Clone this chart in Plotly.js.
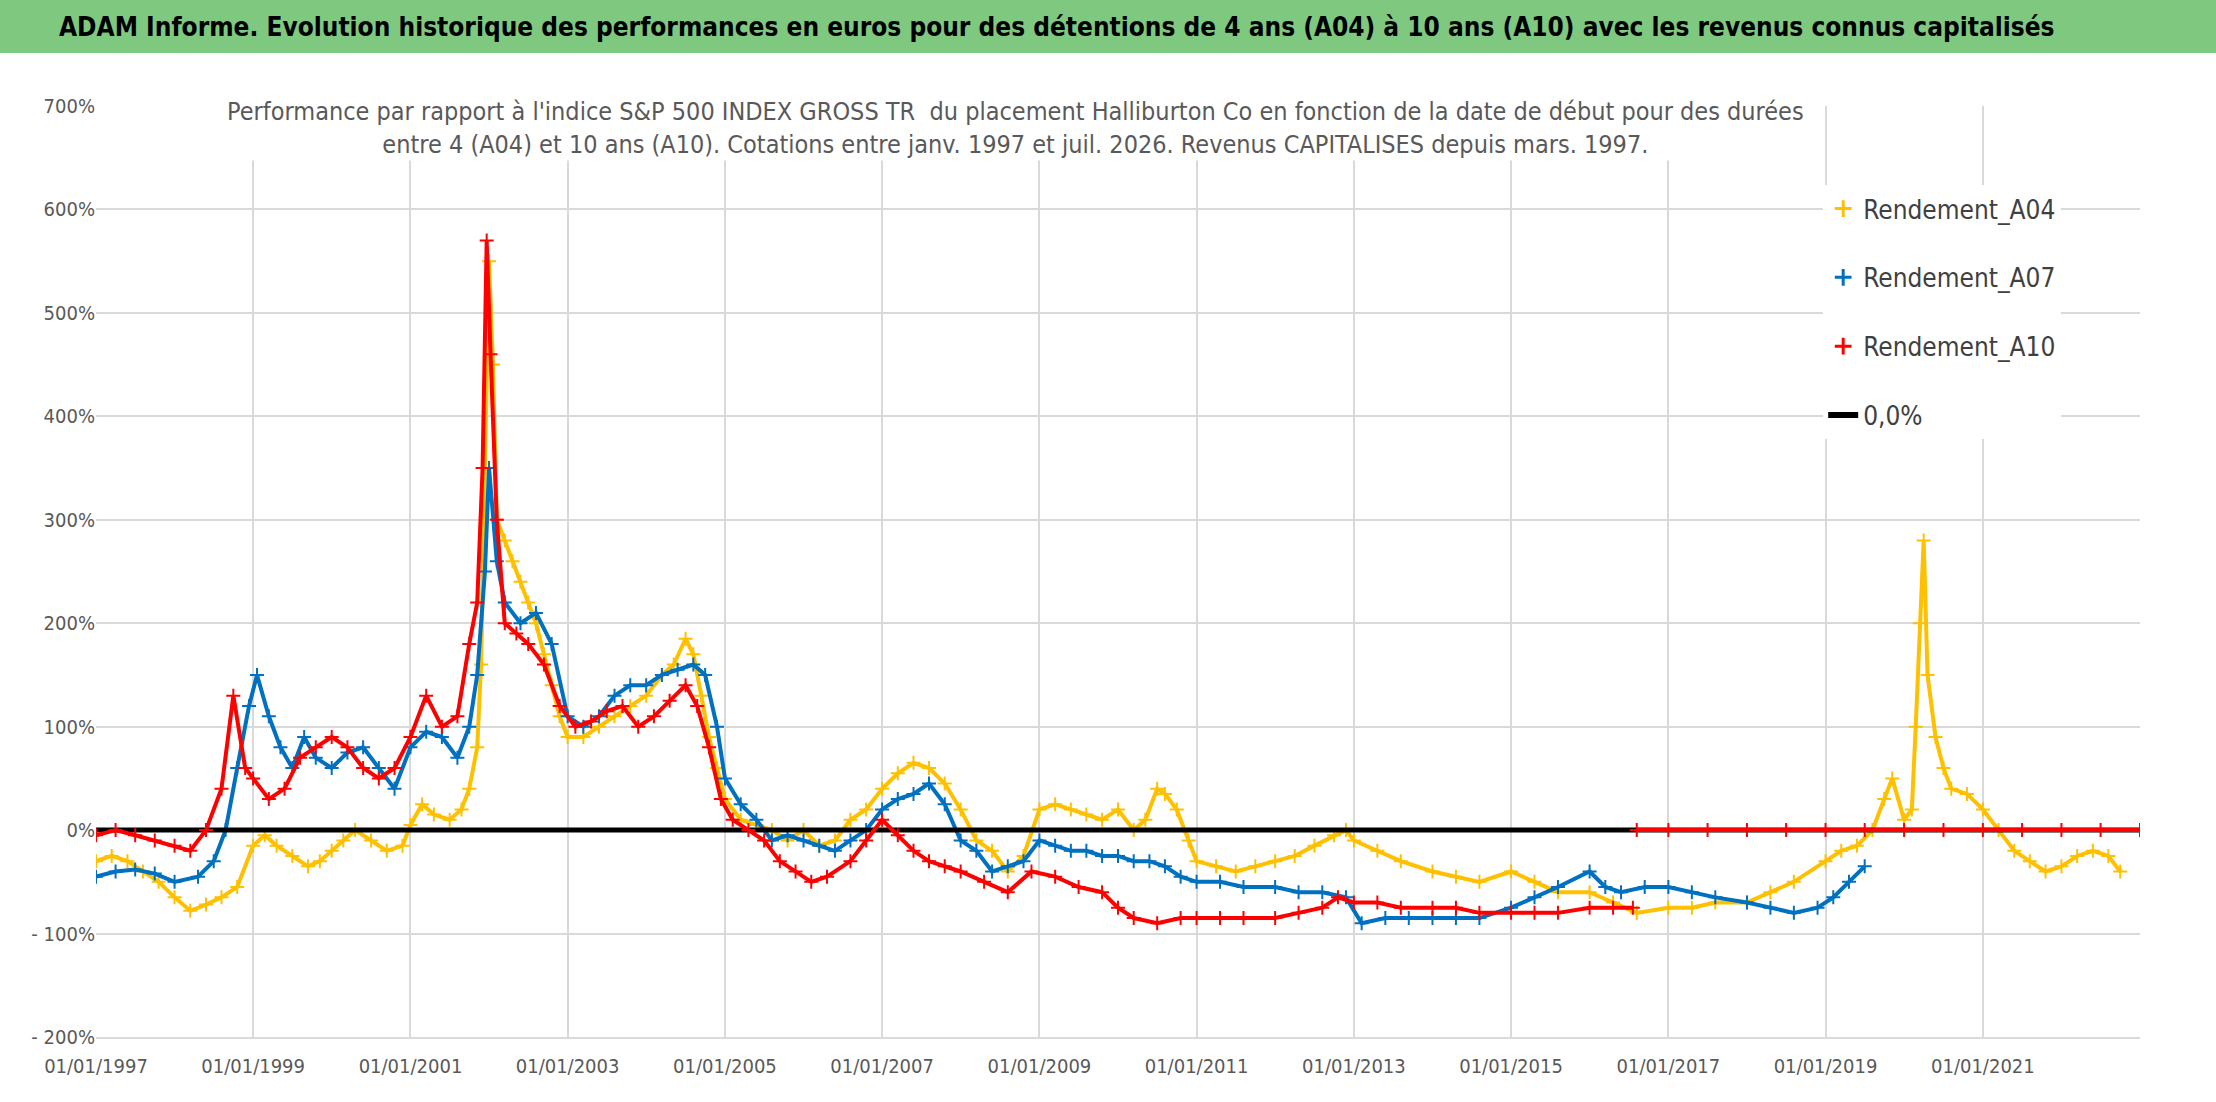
<!DOCTYPE html>
<html>
<head>
<meta charset="utf-8">
<script src="https://cdn.plot.ly/plotly-3.0.1.min.js"></script>
<style>body{margin:0;background:#fff}#graph{width:2216px;height:1102px}</style>
</head>
<body>
<div id="graph"></div>
<script>
// dates as decimal years, values in %
const tA04 = [1997.0,1997.2,1997.4,1997.6,1997.8,1998.0,1998.2,1998.4,1998.6,1998.8,1999.0,1999.15,1999.3,1999.5,1999.7,1999.85,2000.0,2000.15,2000.3,2000.5,2000.7,2000.9,2001.0,2001.15,2001.3,2001.5,2001.65,2001.75,2001.85,2001.9,2001.95,2002.0,2002.05,2002.1,2002.2,2002.3,2002.4,2002.5,2002.6,2002.7,2002.8,2002.9,2003.0,2003.2,2003.4,2003.6,2003.8,2004.0,2004.2,2004.35,2004.5,2004.6,2004.7,2004.8,2004.9,2005.0,2005.2,2005.4,2005.6,2005.8,2006.0,2006.2,2006.4,2006.6,2006.8,2007.0,2007.2,2007.4,2007.6,2007.8,2008.0,2008.2,2008.4,2008.6,2008.8,2009.0,2009.2,2009.4,2009.6,2009.8,2010.0,2010.2,2010.35,2010.5,2010.6,2010.75,2010.9,2011.0,2011.25,2011.5,2011.75,2012.0,2012.25,2012.5,2012.75,2012.9,2013.0,2013.3,2013.6,2014.0,2014.3,2014.6,2015.0,2015.3,2015.6,2016.0,2016.3,2016.6,2017.0,2017.3,2017.6,2018.0,2018.3,2018.6,2019.0,2019.2,2019.4,2019.6,2019.75,2019.85,2020.0,2020.1,2020.15,2020.2,2020.25,2020.3,2020.4,2020.5,2020.6,2020.8,2021.0,2021.2,2021.4,2021.6,2021.8,2022.0,2022.2,2022.4,2022.6,2022.75];
const vA04 = [-30,-25,-30,-40,-50,-65,-78,-72,-65,-55,-15,-5,-15,-25,-35,-30,-20,-10,0,-10,-20,-15,5,25,15,10,20,40,80,160,350,550,450,300,280,260,240,220,200,170,140,110,90,90,100,110,120,130,150,160,185,170,130,90,60,30,10,5,0,-10,0,-15,-10,10,20,40,55,65,60,45,20,-10,-20,-40,-25,20,25,20,15,10,20,0,10,40,35,20,-10,-30,-35,-40,-35,-30,-25,-15,-5,0,-10,-20,-30,-40,-45,-50,-40,-50,-60,-60,-70,-80,-75,-75,-70,-70,-60,-50,-30,-20,-15,0,30,50,10,20,100,200,280,150,90,60,40,35,20,0,-20,-30,-40,-35,-25,-20,-25,-40,-35];

const tA07 = [1997.0,1997.25,1997.5,1997.75,1998.0,1998.3,1998.5,1998.65,1998.8,1998.95,1999.05,1999.2,1999.35,1999.5,1999.65,1999.8,2000.0,2000.2,2000.4,2000.6,2000.8,2001.0,2001.2,2001.4,2001.6,2001.75,2001.85,2001.95,2002.0,2002.1,2002.2,2002.4,2002.6,2002.8,2003.0,2003.2,2003.4,2003.6,2003.8,2004.0,2004.2,2004.4,2004.6,2004.75,2004.9,2005.0,2005.2,2005.4,2005.6,2005.8,2006.0,2006.2,2006.4,2006.6,2006.8,2007.0,2007.2,2007.4,2007.6,2007.8,2008.0,2008.2,2008.4,2008.6,2008.8,2009.0,2009.2,2009.4,2009.6,2009.8,2010.0,2010.2,2010.4,2010.6,2010.8,2011.0,2011.3,2011.6,2012.0,2012.3,2012.6,2012.9,2013.1,2013.4,2013.7,2014.0,2014.3,2014.6,2015.0,2015.3,2015.6,2016.0,2016.2,2016.4,2016.7,2017.0,2017.3,2017.6,2018.0,2018.3,2018.6,2018.9,2019.1,2019.3,2019.5];
const vA07 = [-45,-40,-38,-42,-50,-45,-30,0,60,120,150,110,80,60,90,70,60,75,80,60,40,80,95,90,70,100,150,250,350,260,220,200,210,180,110,100,110,130,140,140,150,155,160,150,100,50,25,10,-10,-5,-10,-15,-20,-10,0,20,30,35,45,25,-10,-20,-40,-35,-30,-10,-15,-20,-20,-25,-25,-30,-30,-35,-45,-50,-50,-55,-55,-60,-60,-65,-90,-85,-85,-85,-85,-85,-75,-65,-55,-40,-55,-60,-55,-55,-60,-65,-70,-75,-80,-75,-65,-50,-35];

const tA10 = [1997.0,1997.25,1997.5,1997.75,1998.0,1998.2,1998.4,1998.6,1998.75,1998.9,1999.0,1999.2,1999.4,1999.6,1999.8,2000.0,2000.2,2000.4,2000.6,2000.8,2001.0,2001.2,2001.4,2001.6,2001.75,2001.85,2001.92,2001.97,2002.02,2002.1,2002.2,2002.35,2002.5,2002.7,2002.9,2003.1,2003.3,2003.5,2003.7,2003.9,2004.1,2004.3,2004.5,2004.65,2004.8,2004.95,2005.1,2005.3,2005.5,2005.7,2005.9,2006.1,2006.3,2006.6,2006.8,2007.0,2007.2,2007.4,2007.6,2007.8,2008.0,2008.3,2008.6,2008.9,2009.2,2009.5,2009.8,2010.0,2010.2,2010.5,2010.8,2011.0,2011.3,2011.6,2012.0,2012.3,2012.6,2012.8,2013.0,2013.3,2013.6,2014.0,2014.3,2014.6,2015.0,2015.3,2015.6,2016.0,2016.3,2016.55];
const vA10 = [-5,0,-5,-10,-15,-20,0,40,130,60,50,30,40,70,80,90,80,60,50,60,90,130,100,110,180,220,350,570,460,300,200,190,180,160,120,100,105,115,120,100,110,125,140,120,80,30,10,0,-10,-30,-40,-50,-45,-30,-10,10,-5,-20,-30,-35,-40,-50,-60,-40,-45,-55,-60,-75,-85,-90,-85,-85,-85,-85,-85,-80,-75,-65,-70,-70,-75,-75,-75,-80,-80,-80,-80,-75,-75,-75];

// A10 after 2016.6: flat at 0
const tA10b = [2016.6,2017.0,2017.5,2018.0,2018.5,2019.0,2019.5,2020.0,2020.5,2021.0,2021.5,2022.0,2022.5,2023.0];
const vA10b = [0,0,0,0,0,0,0,0,0,0,0,0,0,0];

const tZero = [1997.0, 2023.0];
const vZero = [0, 0];

const yTicks = [-200,-100,0,100,200,300,400,500,600,700];
const yLabels = ['- 200%','- 100%','0%','100%','200%','300%','400%','500%','600%','700%'];
const xTicks = ['1997-01-01','1999-01-01','2001-01-01','2003-01-01','2005-01-01','2007-01-01','2009-01-01','2011-01-01','2013-01-01','2015-01-01','2017-01-01','2019-01-01','2021-01-01'];
const xLabels = ['01/01/1997','01/01/1999','01/01/2001','01/01/2003','01/01/2005','01/01/2007','01/01/2009','01/01/2011','01/01/2013','01/01/2015','01/01/2017','01/01/2019','01/01/2021'];

const toDate = y => {
  const yr = Math.floor(y);
  const ms = Date.UTC(yr,0,1) + (y - yr) * (Date.UTC(yr+1,0,1) - Date.UTC(yr,0,1));
  return new Date(ms).toISOString().slice(0,10);
};

const FONT = '"DejaVu Sans Condensed", "Liberation Sans Narrow", sans-serif';
const mk = (t, v, color) => ({
  x: t.map(toDate), y: v, type: 'scatter', mode: 'lines+markers', showlegend: false,
  line: {color: color, width: 4},
  marker: {symbol: 'cross-thin-open', size: 10, line: {color: color, width: 2}, color: color}
});
const leg = (name, color, i) => ({
  x: [null], y: [null], name: name, type: 'scatter', mode: 'markers', legendgroup: 'g' + i,
  marker: {symbol: 'cross-thin-open', size: 12, color: color, line: {color: color, width: 3}}
});

const traces = [
  mk(tA04, vA04, '#ffc000'),
  mk(tA07, vA07, '#0070c0'),
  {x: tZero.map(toDate), y: vZero, type: 'scatter', mode: 'lines', line: {color: '#000', width: 5}, showlegend: false},
  mk(tA10, vA10, '#ff0000'),
  mk(tA10b, vA10b, '#ff0000'),
  leg('Rendement_A04', '#ffc000', 1),
  leg('Rendement_A07', '#0070c0', 2),
  leg('Rendement_A10', '#ff0000', 3),
  {x: [null], y: [null], name: '0,0%', type: 'scatter', mode: 'lines', legendgroup: 'g4', line: {color: '#000', width: 6}}
];

Plotly.newPlot('graph', traces, {
  width: 2216, height: 1102,
  margin: {l: 96, r: 76, t: 106, b: 65},
  paper_bgcolor: '#fff', plot_bgcolor: '#fff',
  font: {family: FONT, color: '#595959', size: 20},
  showlegend: true,
  legend: {x: 0.845, y: 0.915, xanchor: 'left', yanchor: 'top', bgcolor: '#fff',
    font: {size: 26, color: '#404040'}, tracegroupgap: 32, traceorder: 'grouped'},
  xaxis: {type: 'date', range: ['1997-01-01', '2023-01-01'], tickvals: xTicks, ticktext: xLabels,
    showgrid: true, gridcolor: '#d9d9d9', gridwidth: 2, zeroline: false, ticklabelstandoff: 10,
    showline: true, linecolor: '#d9d9d9', linewidth: 2, ticks: '', tickfont: {size: 20}},
  yaxis: {range: [-200, 700], tickvals: yTicks, ticktext: yLabels,
    showgrid: true, gridcolor: '#d9d9d9', gridwidth: 2, zeroline: false, ticks: '',
    tickfont: {size: 20}},
  shapes: [
    {type: 'rect', xref: 'paper', yref: 'paper', x0: -96/2044, x1: 1 + 76/2044, y0: (1102-65-53)/931, y1: (1102-65)/931, fillcolor: '#7ec97f', line: {width: 0}, layer: 'below'}
  ],
  annotations: [
    {xref: 'paper', yref: 'paper', x: 0.47, y: (1102-65-27)/931, xanchor: 'center', yanchor: 'middle', showarrow: false,
      text: '<b>ADAM Informe. Evolution historique des performances en euros pour des détentions de 4 ans (A04) à 10 ans (A10) avec les revenus connus capitalisés</b>',
      font: {size: 26, color: '#000', family: FONT}},
    {xref: 'paper', yref: 'paper', x: 0.45, y: (1102-65-128)/931, xanchor: 'center', yanchor: 'middle', showarrow: false,
      text: 'Performance par rapport à l\'indice S&P 500 INDEX GROSS TR  du placement Halliburton Co en fonction de la date de début pour des durées<br>entre 4 (A04) et 10 ans (A10). Cotations entre janv. 1997 et juil. 2026. Revenus CAPITALISES depuis mars. 1997.',
      font: {size: 25, color: '#595959', family: FONT}, bgcolor: '#fff'}
  ]
}, {displayModeBar: false});
</script>
</body>
</html>
